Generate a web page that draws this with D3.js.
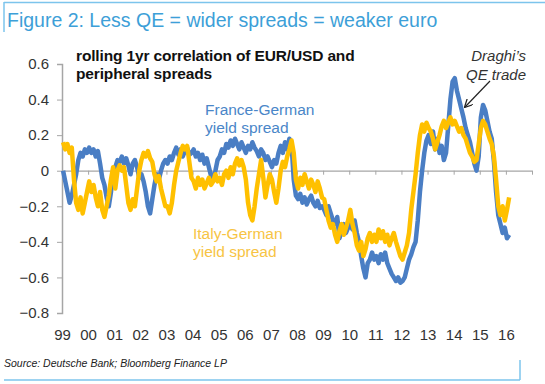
<!DOCTYPE html>
<html>
<head>
<meta charset="utf-8">
<script src="https://cdn.jsdelivr.net/npm/d3@7"></script>
<style>
  body { margin: 0; background: #fff; }
  svg { font-family: "Liberation Sans", Arial, sans-serif; }
</style>
</head>
<body>
<div class="canvas"></div>
<script>
// monthly values, Jan 1999 .. Feb 2016
const franceGerman = [
  0.00, -0.06, -0.12, -0.18, -0.14, -0.08, -0.02, 0.06, 0.10, 0.08, 0.12, 0.10,   // 99
  0.13, 0.10, 0.12, 0.08, 0.11, 0.04, -0.04, -0.08, -0.15, -0.20, -0.12, -0.02,   // 00
  0.02, 0.06, 0.05, 0.08, 0.04, 0.07, 0.03, -0.02, 0.04, 0.06, 0.02, -0.04,       // 01
  -0.02, -0.06, -0.12, -0.20, -0.24, -0.16, -0.08, -0.02, -0.05, 0.00, 0.04, 0.06, // 02
  0.04, 0.08, 0.06, 0.10, 0.13, 0.09, 0.12, 0.08, 0.11, 0.13, 0.09, 0.10,         // 03
  0.12, 0.08, 0.10, 0.06, 0.09, 0.04, 0.07, 0.02, -0.03, -0.05, 0.00, 0.06,       // 04
  0.08, 0.12, 0.10, 0.15, 0.13, 0.17, 0.14, 0.18, 0.15, 0.12, 0.16, 0.13,         // 05
  0.10, 0.14, 0.12, 0.16, 0.13, 0.11, 0.08, 0.12, 0.10, 0.06, 0.08, 0.05,         // 06
  0.02, 0.06, 0.04, 0.10, 0.14, 0.10, 0.16, 0.12, 0.18, 0.15, -0.05, -0.14,       // 07
  -0.16, -0.13, -0.18, -0.15, -0.19, -0.16, -0.14, -0.18, -0.20, -0.17, -0.21, -0.20, // 08
  -0.22, -0.25, -0.20, -0.24, -0.28, -0.30, -0.26, -0.38, -0.34, -0.30, -0.35, -0.32, // 09
  -0.30, -0.33, -0.28, -0.35, -0.40, -0.48, -0.55, -0.60, -0.52, -0.50, -0.46, -0.50, // 10
  -0.48, -0.52, -0.47, -0.50, -0.46, -0.52, -0.55, -0.58, -0.60, -0.62, -0.60, -0.63, // 11
  -0.62, -0.60, -0.55, -0.50, -0.47, -0.43, -0.40, -0.28, -0.12, 0.00, 0.10, 0.17,   // 12
  0.20, 0.15, 0.22, 0.12, 0.18, 0.10, 0.14, 0.06, 0.10, 0.25, 0.40, 0.50,         // 13
  0.52, 0.45, 0.40, 0.35, 0.30, 0.24, 0.20, 0.16, 0.10, 0.04, 0.00, 0.08,         // 14
  0.30, 0.37, 0.34, 0.28, 0.22, 0.18, 0.05, -0.12, -0.25, -0.30, -0.35, -0.32,    // 15
  -0.38, -0.36                                                                    // 16
];

const italyGerman = [
  0.16, 0.12, 0.15, 0.10, 0.13, -0.05, -0.18, -0.22, -0.15, -0.24, -0.18, -0.12,  // 99
  -0.06, -0.12, -0.08, -0.15, -0.20, -0.12, -0.22, -0.26, -0.20, -0.14, -0.05, 0.02, // 00
  -0.10, 0.00, 0.03, 0.00, 0.02, -0.08, -0.18, -0.22, -0.16, -0.20, -0.10, 0.00,  // 01
  0.06, 0.10, 0.08, 0.11, 0.07, 0.05, -0.02, -0.06, -0.03, -0.10, -0.15, -0.20,   // 02
  -0.20, -0.24, -0.18, -0.08, 0.00, 0.05, 0.10, 0.14, 0.12, 0.14, 0.05, -0.04,    // 03
  -0.06, -0.10, -0.04, -0.08, -0.05, -0.10, -0.07, -0.04, -0.08, -0.06, -0.02, -0.06, // 04
  -0.04, -0.08, -0.02, 0.00, -0.04, 0.02, -0.02, 0.04, 0.07, 0.03, 0.06, 0.02,    // 05
  -0.05, -0.18, -0.25, -0.28, -0.20, -0.10, -0.02, 0.06, -0.04, -0.15, -0.08, -0.02, // 06
  -0.05, -0.12, -0.18, -0.10, 0.00, 0.05, 0.02, 0.08, 0.12, 0.17, 0.10, -0.05,    // 07
  -0.10, -0.04, -0.08, -0.02, -0.06, -0.10, -0.05, -0.08, -0.12, -0.06, -0.10, -0.15, // 08
  -0.16, -0.22, -0.28, -0.32, -0.30, -0.36, -0.40, -0.34, -0.30, -0.36, -0.32, -0.28, // 09
  -0.22, -0.30, -0.35, -0.42, -0.45, -0.40, -0.48, -0.44, -0.38, -0.35, -0.40, -0.36, // 10
  -0.40, -0.33, -0.38, -0.34, -0.40, -0.36, -0.42, -0.38, -0.35, -0.40, -0.44, -0.48, // 11
  -0.50, -0.46, -0.42, -0.35, -0.22, -0.12, -0.02, 0.10, 0.20, 0.26, 0.22, 0.27,  // 12
  0.24, 0.22, 0.18, 0.12, 0.16, 0.20, 0.25, 0.28, 0.24, 0.27, 0.30, 0.26,         // 13
  0.28, 0.25, 0.22, 0.24, 0.20, 0.18, 0.14, 0.10, 0.08, 0.05, 0.06, 0.15,         // 14
  0.24, 0.28, 0.26, 0.22, 0.18, 0.15, 0.08, -0.05, -0.20, -0.25, -0.20, -0.28,    // 15
  -0.22, -0.15                                                                    // 16
];

const yearLabels = ['99','00','01','02','03','04','05','06','07','08','09','10','11','12','13','14','15','16'];
const yTicks = [-0.8, -0.6, -0.4, -0.2, 0, 0.2, 0.4, 0.6];

const width = 545, height = 384;

const svg = d3.select('.canvas')
  .append('svg')
    .attr('width', width)
    .attr('height', height);

const x = d3.scaleLinear().domain([1999, 2017]).range([62, 532]);
const y = d3.scaleLinear().domain([-0.8, 0.6]).range([313, 64]);

// frame lines
const frameCol = '#7cc4ec';
svg.append('line').attr('x1', 4).attr('x2', 545).attr('y1', 2.5).attr('y2', 2.5)
  .attr('stroke', frameCol).attr('stroke-width', 1.5);
svg.append('line').attr('x1', 4).attr('x2', 4).attr('y1', 2).attr('y2', 32)
  .attr('stroke', frameCol).attr('stroke-width', 1.5);
svg.append('line').attr('x1', 4).attr('x2', 520).attr('y1', 380).attr('y2', 380)
  .attr('stroke', frameCol).attr('stroke-width', 1.5);
svg.append('line').attr('x1', 520).attr('x2', 520).attr('y1', 360).attr('y2', 380)
  .attr('stroke', frameCol).attr('stroke-width', 1.5);

// title
svg.append('text')
  .attr('x', 7).attr('y', 27)
  .attr('fill', '#3d9fd8')
  .attr('font-size', 19.5)
  .text('Figure 2: Less QE = wider spreads = weaker euro');

// y axis
const yAxis = svg.append('g')
  .attr('transform', 'translate(62,0)')
  .call(d3.axisLeft(y).tickValues(yTicks).tickSize(5).tickPadding(8)
    .tickFormat(d => d === 0 ? '0' : d3.format('.1f')(d)));
yAxis.select('.domain').attr('stroke', '#a6a6a6').attr('stroke-width', 1.5);
yAxis.selectAll('.tick line').attr('stroke', '#a6a6a6');
yAxis.selectAll('.tick text').attr('font-size', 15).attr('fill', '#333')
  .attr('font-family', '"Liberation Sans", Arial, sans-serif');

// zero line with year ticks
const years = d3.range(1999, 2018);
const xAxis = svg.append('g')
  .attr('transform', `translate(0,${y(0)})`)
  .call(d3.axisBottom(x).tickValues(years).tickSize(4).tickFormat('').tickSizeOuter(0));
xAxis.select('.domain').attr('stroke', '#a6a6a6').attr('stroke-width', 1.2);
xAxis.selectAll('.tick line').attr('stroke', '#a6a6a6');

// year labels under the plot
const labelAxis = svg.append('g')
  .attr('transform', 'translate(0,326)')
  .call(d3.axisBottom(x).tickValues(d3.range(1999, 2017)).tickSize(0)
    .tickFormat((d, i) => yearLabels[i]));
labelAxis.select('.domain').remove();
labelAxis.selectAll('.tick text').attr('font-size', 15).attr('fill', '#333')
  .attr('font-family', '"Liberation Sans", Arial, sans-serif');

// series
const t = i => 1999 + (i + 0.5) / 12;
const line = d3.line().x((d, i) => x(t(i))).y(d => y(d));

svg.append('path')
  .datum(franceGerman)
  .attr('d', line)
  .attr('fill', 'none')
  .attr('stroke', '#4a7ec4')
  .attr('stroke-width', 4.5)
  .attr('stroke-linejoin', 'round');

svg.append('path')
  .datum(italyGerman)
  .attr('d', line)
  .attr('fill', 'none')
  .attr('stroke', '#ffc000')
  .attr('stroke-width', 4.5)
  .attr('stroke-linejoin', 'round');

// subtitle
const sub = svg.append('text')
  .attr('x', 76).attr('y', 61)
  .attr('font-size', 15.5).attr('font-weight', 'bold').attr('fill', '#111')
  .attr('letter-spacing', -0.15);
sub.append('tspan').attr('x', 76).text('rolling 1yr correlation of EUR/USD and');
sub.append('tspan').attr('x', 76).attr('dy', 18).text('peripheral spreads');

// series labels
const fr = svg.append('text').attr('font-size', 15.5).attr('fill', '#4a86c8');
fr.append('tspan').attr('x', 205).attr('y', 115).text('France-German');
fr.append('tspan').attr('x', 205).attr('y', 133).text('yield spread');

const it = svg.append('text').attr('font-size', 15.5).attr('fill', '#f7c444');
it.append('tspan').attr('x', 193).attr('y', 239).text('Italy-German');
it.append('tspan').attr('x', 193).attr('y', 257).text('yield spread');

// annotation
const dr = svg.append('text').attr('font-size', 15).attr('font-style', 'italic')
  .attr('fill', '#333').attr('text-anchor', 'end');
dr.append('tspan').attr('x', 526).attr('y', 61).text('Draghi\u2019s');
dr.append('tspan').attr('x', 526).attr('y', 80).text('QE trade');

svg.append('defs').append('marker')
  .attr('id', 'arrow').attr('viewBox', '0 0 10 10')
  .attr('refX', 9).attr('refY', 5)
  .attr('markerWidth', 7).attr('markerHeight', 7)
  .attr('orient', 'auto-start-reverse')
  .append('path').attr('d', 'M0,0 L10,5 L0,10').attr('fill', 'none')
  .attr('stroke', '#222').attr('stroke-width', 1.5);

svg.append('line')
  .attr('x1', 490).attr('y1', 81).attr('x2', 465).attr('y2', 107)
  .attr('stroke', '#222').attr('stroke-width', 1.2)
  .attr('marker-end', 'url(#arrow)');

// source
svg.append('text')
  .attr('x', 4).attr('y', 367)
  .attr('font-size', 10.5).attr('font-style', 'italic').attr('fill', '#222')
  .text('Source: Deutsche Bank; Bloomberg Finance LP');
</script>
</body>
</html>
